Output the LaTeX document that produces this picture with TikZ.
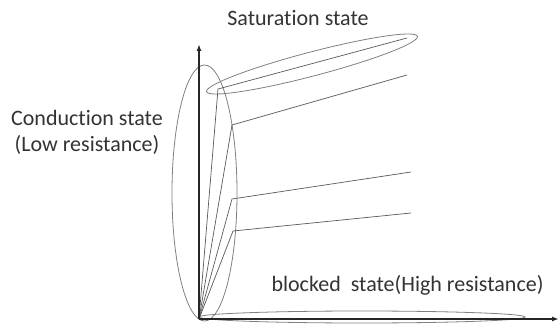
\documentclass[tikz,border=0pt]{standalone}
\usepackage{fontspec}
\setmainfont[Ligatures=NoCommon]{Carlito}
\usetikzlibrary{arrows.meta}
\begin{document}
\begin{tikzpicture}[x=1pt,y=1pt,
  axis/.style={line width=1.6pt,draw=black!85,-{Latex[length=7pt,width=5pt]}},
  curve/.style={line width=0.7pt,draw=black!65},
  ring/.style={line width=0.8pt,draw=black!50},
  lbl/.style={font=\fontsize{22}{26}\selectfont,text=black!80,inner sep=0pt}]
\useasboundingbox (0,0) rectangle (560,327);
\coordinate (O) at (199,8);
\coordinate (Ytip) at (199,283);
\coordinate (Xtip) at (559,8);
\coordinate (k1) at (218,238); \coordinate (e1) at (407,289);
\coordinate (k2) at (232,202); \coordinate (e2) at (407,252);
\coordinate (k3) at (232,128); \coordinate (e3) at (411,155);
\coordinate (k4) at (233,96);  \coordinate (e4) at (411,114);
% ellipses
\draw[ring] (204.5,134) ellipse [x radius=32.5, y radius=128];
\draw[ring,rotate around={14.7:(312,263)}] (312,263) ellipse [x radius=109, y radius=12];
\draw[ring] (362,10) ellipse [x radius=163, y radius=6];
% curves
\draw[curve] (O) -- (k1) -- (e1);
\draw[curve] (O) -- (k2) -- (e2);
\draw[curve] (O) -- (k3) -- (e3);
\draw[curve] (O) -- (k4) -- (e4);
% axes
\draw[axis] (O) -- (Ytip);
\draw[axis] (O) -- (Xtip);
% labels
\node[lbl] (sat) at (298,309) {Saturation state};
\node[lbl] (cond) at (87,209) {Conduction state};
\node[lbl] (low) at (87,182) {(Low resistance)};
\node[lbl] (blk) at (407.5,42) {blocked\ \ state(High resistance)};
\end{tikzpicture}
\end{document}
